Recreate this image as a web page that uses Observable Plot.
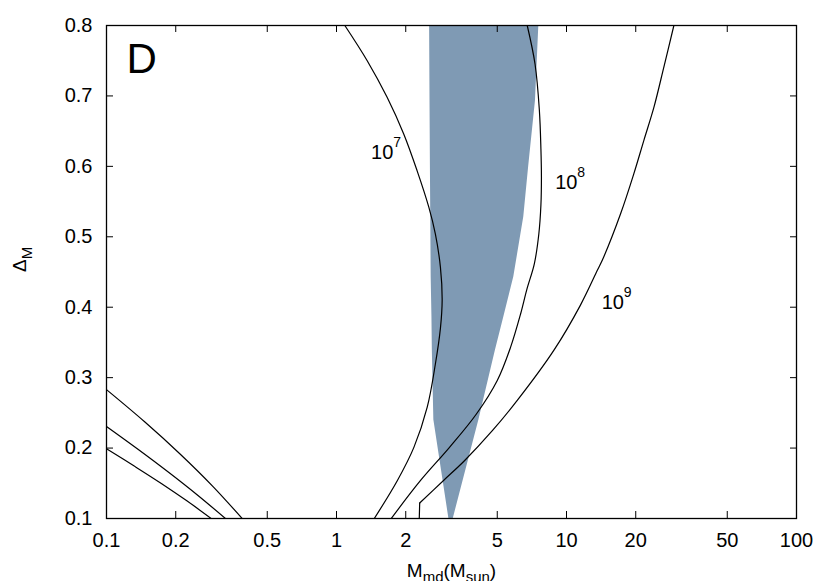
<!DOCTYPE html>
<html><head><meta charset="utf-8">
<script src="https://cdn.jsdelivr.net/npm/d3@7"></script>
<script src="https://cdn.jsdelivr.net/npm/@observablehq/plot@0.6"></script>
<style>body{margin:0;background:#fff;}</style>
</head><body><div id="chart"></div>
<script>
// Tick values
const xTicks = [0.1, 0.2, 0.5, 1, 2, 5, 10, 20, 50, 100];
const yTicks = [0.1, 0.2, 0.3, 0.4, 0.5, 0.6, 0.7, 0.8];
const xDomain = [0.1, 100];
const yDomain = [0.1, 0.8];

// Shaded region (left and right boundary at each Delta_M)
const shadeY     = [0.100, 0.240, 0.339, 0.386, 0.443, 0.528, 0.600, 0.693, 0.800];
const shadeLeft  = [3.08, 2.65, 2.61, 2.60, 2.58, 2.57, 2.56, 2.55, 2.54];
const shadeRight = [3.22, 4.16, 4.91, 5.34, 5.90, 6.52, 6.85, 7.33, 7.58];

// Contour 10^7
const c7x = [1.46, 1.84, 2.17, 2.48, 2.69, 2.83, 2.88, 2.83, 2.69, 2.52, 2.24, 1.96, 1.66, 1.36, 1.087];
const c7y = [0.100, 0.154, 0.201, 0.258, 0.319, 0.370, 0.410, 0.457, 0.504, 0.542, 0.594, 0.646, 0.698, 0.750, 0.800];
// Contour 10^8
const c8x = [1.73, 2.32, 3.10, 4.05, 5.00, 5.71, 6.31, 6.72, 7.25, 7.58, 7.74, 7.78, 7.74, 7.62, 7.30, 6.75];
const c8y = [0.100, 0.154, 0.201, 0.248, 0.296, 0.343, 0.390, 0.425, 0.462, 0.504, 0.545, 0.585, 0.625, 0.680, 0.745, 0.800];
// Contour 10^9 (short vertical stub at the bottom, then the curve)
const c9stubX = [2.29, 2.30];
const c9stubY = [0.100, 0.122];
const c9x = [2.30, 2.92, 3.60, 4.77, 6.12, 8.82, 11.5, 13.6, 14.5, 17.2, 19.6, 21.7, 24.0, 26.5, 29.3];
const c9y = [0.122, 0.154, 0.182, 0.225, 0.268, 0.339, 0.403, 0.452, 0.471, 0.533, 0.589, 0.637, 0.684, 0.741, 0.800];
// Three lines at lower left
const aX = [0.100, 0.1469, 0.2094, 0.2899, 0.389];
const aY = [0.283, 0.237, 0.1913, 0.1457, 0.100];
const bX = [0.100, 0.1375, 0.1868, 0.2499, 0.329];
const bY = [0.2307, 0.198, 0.1653, 0.1327, 0.100];
const cX = [0.100, 0.1325, 0.1738, 0.2243, 0.285];
const cY = [0.199, 0.1741, 0.1494, 0.1247, 0.100];

// Contour labels
const labBase = ["10", "10", "10"];
const labExp  = ["7", "8", "9"];
const labX    = [1.58, 9.98, 15.9];
const labY    = [0.619, 0.577, 0.407];

const panelLabel = ["D"];
const xTitle = "M_md(M_sun)";
const yTitle = "Delta_M";

const pts = (xs, ys) => xs.map((x, i) => ({x, y: ys[i]}));
const shade = shadeY.map((y, i) => ({y, x1: shadeLeft[i], x2: shadeRight[i]}));
const labels = labBase.map((t, i) => ({t, e: labExp[i], x: labX[i], y: labY[i]}));

const W = 830, H = 581, mL = 106, mR = 34, mT = 25, mB = 63;
const TICK = 7;
// tick length expressed in y units (inward ticks along the log x axis)
const tickDy = (yDomain[1] - yDomain[0]) * TICK / (H - mT - mB);

const lineOpts = {x: "x", y: "y", stroke: "black", strokeWidth: 1.2, curve: "catmull-rom", clip: true};

const plot = Plot.plot({
  width: W, height: H,
  marginLeft: mL, marginRight: mR, marginTop: mT, marginBottom: mB,
  style: {fontFamily: "'Liberation Sans', Arial, Helvetica, sans-serif", background: "white", color: "black"},
  x: {type: "log", domain: xDomain, axis: null},
  y: {domain: yDomain},
  marks: [
    Plot.areaX(shade, {y: "y", x1: "x1", x2: "x2", fill: "#7f9ab4", clip: true}),
    Plot.line(pts(c7x, c7y), lineOpts),
    Plot.line(pts(c8x, c8y), lineOpts),
    Plot.line(pts(c9stubX, c9stubY), {...lineOpts, curve: "linear"}),
    Plot.line(pts(c9x, c9y), lineOpts),
    Plot.line(pts(aX, aY), lineOpts),
    Plot.line(pts(bX, bY), lineOpts),
    Plot.line(pts(cX, cY), lineOpts),
    Plot.frame({stroke: "black", strokeWidth: 1.3}),
    // x ticks (inward, bottom and top) and labels
    Plot.ruleX(xTicks, {x: d => d, y1: yDomain[0], y2: yDomain[0] + tickDy, stroke: "black"}),
    Plot.ruleX(xTicks, {x: d => d, y1: yDomain[1] - tickDy, y2: yDomain[1], stroke: "black"}),
    Plot.text(xTicks, {x: d => d, text: d => String(d), frameAnchor: "bottom", dy: 14, lineAnchor: "top", fontSize: 20}),
    // y ticks and labels
    Plot.axisY(yTicks, {anchor: "left", tickSize: -TICK, tickPadding: 21, fontSize: 20, tickFormat: d => d.toFixed(1), label: null}),
    Plot.axisY(yTicks, {anchor: "right", tickSize: -TICK, tickFormat: () => "", label: null}),
    Plot.text(labels, {x: "x", y: "y", text: "t", fontSize: 20}),
    Plot.text(labels, {x: "x", y: "y", text: "e", fontSize: 14, dx: 11, dy: -10, textAnchor: "start"}),
    Plot.text(panelLabel, {frameAnchor: "top-left", text: d => d, dx: 20, dy: 18, fontSize: 42, lineAnchor: "top", textAnchor: "start"}),
    Plot.text([xTitle], {frameAnchor: "bottom", text: d => d, dy: 58, fontSize: 19, lineAnchor: "bottom"}),
    Plot.text([yTitle], {frameAnchor: "left", text: d => d, dx: -81, rotate: -90, fontSize: 19, lineAnchor: "bottom"})
  ]
});

// Rich text (subscripts) for axis titles
const NS = "http://www.w3.org/2000/svg";
function setRich(t, parts) {
  t.textContent = "";
  for (const [s, size, dy] of parts) {
    const ts = document.createElementNS(NS, "tspan");
    ts.textContent = s;
    ts.setAttribute("font-size", size);
    if (dy) ts.setAttribute("dy", dy);
    t.appendChild(ts);
  }
}
plot.querySelectorAll("text").forEach(t => {
  if (t.textContent === xTitle) {
    setRich(t, [["M", 19, 0], ["md", 15, 5], ["(M", 19, -5], ["sun", 15, 5], [")", 19, -5]]);
  } else if (t.textContent === yTitle) {
    setRich(t, [["\u0394", 19, 0], ["M", 15, 6]]);
  }
});

document.getElementById("chart").appendChild(plot);
</script>
</body></html>
